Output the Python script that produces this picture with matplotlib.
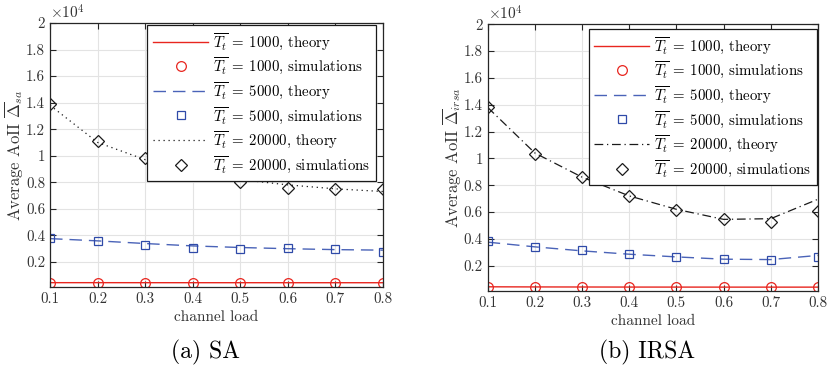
import matplotlib
matplotlib.use("Agg")
import matplotlib.pyplot as plt
from matplotlib.ticker import FuncFormatter

plt.rcParams['font.family'] = ['cmr10', 'DejaVu Serif']
plt.rcParams['mathtext.fontset'] = 'cm'
plt.rcParams['axes.unicode_minus'] = False
plt.rcParams['axes.formatter.use_mathtext'] = True

# channel load values
load = [0.1, 0.2, 0.3, 0.4, 0.5, 0.6, 0.7, 0.8]

# SA (panel a)
sa_1000_theory = [430, 430, 428, 427, 427, 426, 426, 425]
sa_1000_sim = [420, 420, 420, 418, 418, 418, 418, 418]
sa_5000_theory = [3750, 3580, 3380, 3200, 3080, 2990, 2920, 2880]
sa_5000_sim = [3800, 3600, 3300, 3050, 2970, 3050, 2970, 2770]
sa_20000_theory = [13800, 11000, 9700, 8800, 8200, 7800, 7500, 7300]
sa_20000_sim = [13900, 11100, 9800, 8740, 8000, 7600, 7500, 7500]

# IRSA (panel b)
irsa_1000_theory = [420, 410, 405, 400, 398, 396, 395, 395]
irsa_1000_sim = [400, 400, 400, 400, 400, 400, 400, 400]
irsa_5000_theory = [3750, 3400, 3100, 2850, 2650, 2480, 2450, 2760]
irsa_5000_sim = [3820, 3370, 3140, 2840, 2610, 2460, 2410, 2610]
irsa_20000_theory = [13800, 10400, 8600, 7200, 6200, 5450, 5500, 6950]
irsa_20000_sim = [13820, 10350, 8610, 7200, 6170, 5450, 5250, 6100]

y_ticks = [2000, 4000, 6000, 8000, 10000, 12000, 14000, 16000, 18000, 20000]

RED = '#e8261f'
BLUE = '#2f4aa8'
BLUE_LINE = '#4a63b8'
BLACK = '#1a1a1a'
AX_COLOR = '#262626'
GRID_COLOR = '#e3e3e3'


def fmt_y(v, pos):
    return ('%g' % round(v / 1e4, 2))


def draw_panel(ax, series, ylabel, theory_20k_style, legend_anchor, ylabel_x):
    t1, s1, t5, s5, t20, s20 = series
    ax.plot(load, t1, color=RED, lw=1.0, label=r'$\overline{T_t}\:=\:1000$, theory')
    ax.plot(load, s1, ls='none', marker='o', ms=7, mfc='none', mec=RED, mew=0.9,
            label=r'$\overline{T_t}\:=\:1000$, simulations')
    ax.plot(load, t5, color=BLUE_LINE, lw=1.0, dashes=(9, 5),
            label=r'$\overline{T_t}\:=\:5000$, theory')
    ax.plot(load, s5, ls='none', marker='s', ms=6, mfc='none', mec=BLUE, mew=0.9,
            label=r'$\overline{T_t}\:=\:5000$, simulations')
    ax.plot(load, t20, color=BLACK, lw=0.9, dashes=theory_20k_style,
            label=r'$\overline{T_t}\:=\:20000$, theory')
    ax.plot(load, s20, ls='none', marker='D', ms=6.5, mfc='none', mec=BLACK, mew=0.9,
            label=r'$\overline{T_t}\:=\:20000$, simulations')

    ax.set_xlim(0.1, 0.8)
    ax.set_ylim(100, 20000)
    ax.set_xticks(load)
    ax.set_xticklabels(['%g' % v for v in load])
    ax.set_yticks(y_ticks)
    ax.yaxis.set_major_formatter(FuncFormatter(fmt_y))
    ax.grid(True, color=GRID_COLOR, lw=0.8)
    ax.set_axisbelow(True)
    ax.tick_params(direction='in', length=4, width=0.8, top=True, right=True,
                   labelsize=10.8, colors=AX_COLOR, labelcolor='#333333', pad=3.5)
    for sp in ax.spines.values():
        sp.set_color(AX_COLOR)
        sp.set_linewidth(0.9)
    ax.set_xlabel('channel load', fontsize=11, color='#333333', labelpad=3)
    ax.set_ylabel(ylabel, fontsize=12, color='#333333', va='center')
    ax.yaxis.set_label_coords(ylabel_x, 0.5)
    ax.text(0.0, 1.005, r'$\times10^4$', transform=ax.transAxes, fontsize=11,
            color='#333333', ha='left', va='bottom')
    leg = ax.legend(loc='upper right', bbox_to_anchor=legend_anchor, borderaxespad=0,
                    fontsize=10.7, handlelength=3.7, handletextpad=0.3,
                    labelspacing=0.26, borderpad=0.4, fancybox=False,
                    framealpha=1, edgecolor=BLACK)
    leg.get_frame().set_linewidth(0.9)


fig = plt.figure(figsize=(8.27, 3.68), dpi=100)
ax1 = fig.add_axes([0.0605, 0.22, 0.4025, 0.7175])
ax2 = fig.add_axes([0.5897, 0.209, 0.3993, 0.725])

draw_panel(ax1, (sa_1000_theory, sa_1000_sim, sa_5000_theory, sa_5000_sim,
                 sa_20000_theory, sa_20000_sim),
           r'Average AoII $\overline{\Delta}_{sa}$', (1, 3), (0.978, 0.992), -0.107)
draw_panel(ax2, (irsa_1000_theory, irsa_1000_sim, irsa_5000_theory, irsa_5000_sim,
                 irsa_20000_theory, irsa_20000_sim),
           r'Average AoII $\overline{\Delta}_{irsa}$', (7, 3, 1, 3), (0.997, 0.982), -0.106)

fig.text(0.248, 0.043, '(a) SA', fontsize=17, ha='center', va='center')
fig.text(0.782, 0.043, '(b) IRSA', fontsize=17, ha='center', va='center')

fig.savefig('out.png', dpi=100)
